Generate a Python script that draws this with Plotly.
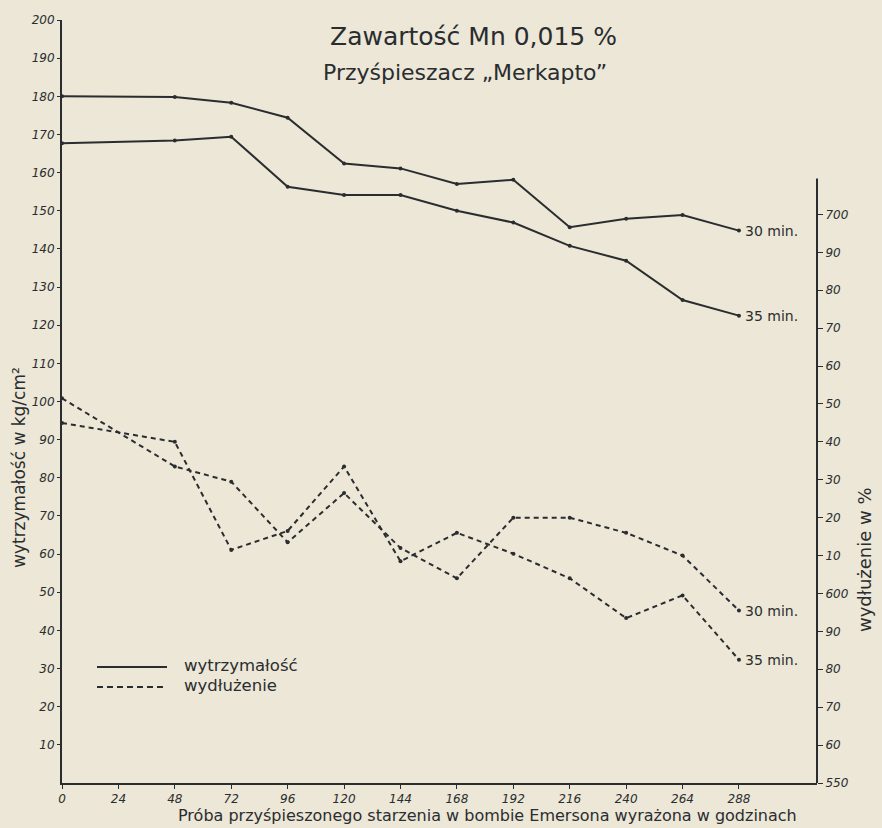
import plotly.graph_objects as go

# ---------------- data ----------------
hours = [0, 48, 72, 96, 120, 144, 168, 192, 216, 240, 264, 288]
x_ticks = [0, 24, 48, 72, 96, 120, 144, 168, 192, 216, 240, 264, 288]

# wytrzymałość (kg/cm²) – left axis
strength_30 = [180.0, 179.8, 178.3, 174.4, 162.4, 161.1, 157.0, 158.1, 145.7, 147.9, 148.9, 144.8]
strength_35 = [167.7, 168.4, 169.4, 156.3, 154.1, 154.1, 150.0, 146.9, 140.8, 136.9, 126.6, 122.5]

# wydłużenie (%) – right axis
elong_30 = [651.5, 633.5, 629.5, 613.5, 626.5, 612.0, 604.0, 620.0, 620.0, 616.0, 610.0, 595.5]
elong_35 = [645.0, 640.0, 611.5, 616.5, 633.5, 608.5, 616.0, 610.5, 604.0, 593.5, 599.5, 582.5]

left_ticks = list(range(10, 201, 10))
right_tickvals = list(range(550, 701, 10))
right_ticktext = ["550", "60", "70", "80", "90", "600", "10", "20", "30", "40",
                  "50", "60", "70", "80", "90", "700"]

title1 = "Zawartość Mn 0,015 %"
title2 = "Przyśpieszacz „Merkapto”"
x_title = "Próba przyśpieszonego starzenia w bombie Emersona wyrażona w godzinach"
y_title = "wytrzymałość w kg/cm²"
y2_title = "wydłużenie w %"
legend_labels = ["wytrzymałość", "wydłużenie"]
end_labels = ["30 min.", "35 min."]

# ---------------- style ----------------
INK = "#2a2d30"
PAPER = "#ece7d6"
FONT = "DejaVu Sans"

W, H = 882, 828
L, R, T, B = 62, 65, 20, 45

fig = go.Figure()

def add_line(y, dash, axis):
    fig.add_trace(go.Scatter(
        x=hours, y=y, mode="lines+markers", yaxis=axis,
        line=dict(color=INK, width=2, dash=dash),
        marker=dict(color=INK, size=4),
        showlegend=False, hoverinfo="skip"))

add_line(strength_30, "solid", "y")
add_line(strength_35, "solid", "y")
add_line(elong_30, "5px,4px", "y2")
add_line(elong_35, "5px,4px", "y2")

annotations = []
for (series, yref), lab in [((strength_30, "y"), end_labels[0]), ((strength_35, "y"), end_labels[1]),
                            ((elong_30, "y2"), end_labels[0]), ((elong_35, "y2"), end_labels[1])]:
    annotations.append(dict(x=hours[-1], y=series[-1], xref="x", yref=yref, text=lab,
                            showarrow=False, xanchor="left", yanchor="middle", xshift=4,
                            font=dict(family=FONT, size=14, color=INK)))

def px_x(px):
    return (px - L) / (W - L - R)

def px_y(py):
    return (H - B - py) / (H - T - B)

def note(px, py, text, size, angle=0, xanchor="center"):
    return dict(x=px_x(px), y=px_y(py), xref="paper", yref="paper", text=text,
                showarrow=False, textangle=angle, xanchor=xanchor, yanchor="middle",
                font=dict(family=FONT, size=size, color=INK))

annotations += [
    note(473, 37, title1, 25),
    note(465, 72, title2, 22),
    note(487, 815, x_title, 16),
    note(19, 468, y_title, 17, angle=-90),
    note(864, 560, y2_title, 18, angle=-90),
    note(182, 665, legend_labels[0], 16.5, xanchor="left"),
    note(182, 685, legend_labels[1], 16.5, xanchor="left"),
]

shapes = [
    # legend samples
    dict(type="line", xref="paper", yref="paper", x0=px_x(97), x1=px_x(167),
         y0=px_y(667), y1=px_y(667), line=dict(color=INK, width=2)),
    dict(type="line", xref="paper", yref="paper", x0=px_x(97), x1=px_x(167),
         y0=px_y(687), y1=px_y(687), line=dict(color=INK, width=2, dash="6px,4px")),
    # right axis line (shorter than plot height)
    dict(type="line", xref="paper", yref="y2", x0=1, x1=1, y0=549.5, y1=709.5,
         line=dict(color=INK, width=2)),
]

tickfont = dict(family=FONT, size=12, color=INK, style="italic")

fig.update_layout(
    width=W, height=H,
    margin=dict(l=L, r=R, t=T, b=B),
    paper_bgcolor=PAPER, plot_bgcolor=PAPER,
    showlegend=False,
    annotations=annotations,
    shapes=shapes,
    xaxis=dict(range=[0, 321.2], tickvals=x_ticks, ticktext=[str(v) for v in x_ticks],
               showgrid=False, zeroline=False, showline=True, linecolor=INK, linewidth=2,
               ticks="outside", ticklen=4, tickcolor=INK, tickfont=tickfont),
    yaxis=dict(range=[0, 200], tickvals=left_ticks, showgrid=False, zeroline=False,
               showline=True, linecolor=INK, linewidth=2, ticks="outside", ticklen=3,
               tickcolor=INK, tickfont=tickfont),
    yaxis2=dict(range=[550, 751.3], overlaying="y", side="right",
                tickvals=right_tickvals, ticktext=right_ticktext, showgrid=False,
                zeroline=False, showline=False, ticks="outside", ticklen=5, tickcolor=INK,
                tickfont=tickfont),
)

fig.write_html("out.html",
               config={"displayModeBar": False},
               post_script="document.body.style.margin='0';"
                           "document.body.style.background='" + PAPER + "';")
